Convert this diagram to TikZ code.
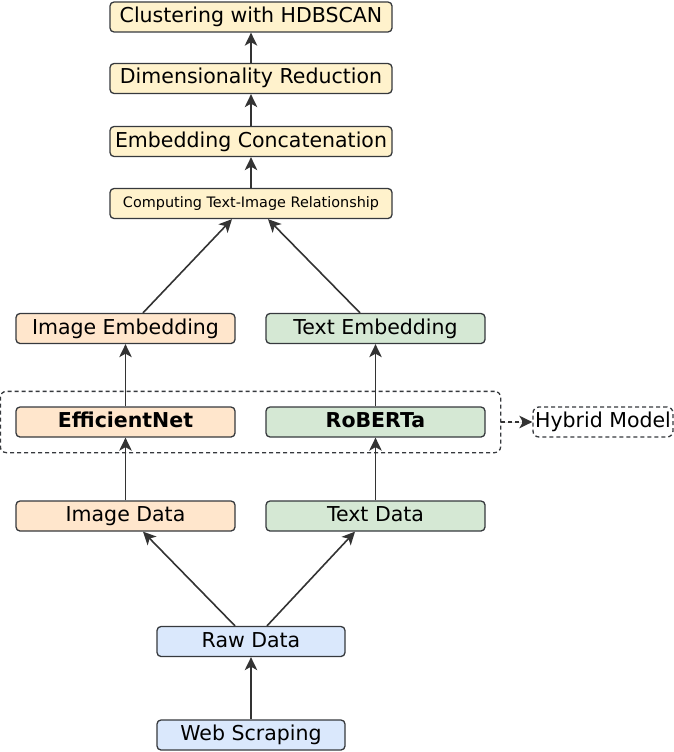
\documentclass[tikz,border=0pt]{standalone}
\usepackage{fontspec}
\setmainfont{DejaVu Sans}
\usetikzlibrary{arrows.meta,fit}
\definecolor{edgegray}{HTML}{36393D}
\definecolor{arrowgray}{HTML}{333333}
\definecolor{yellowfill}{HTML}{FFF2CC}
\definecolor{orangefill}{HTML}{FFE6CC}
\definecolor{greenfill}{HTML}{D5E8D4}
\definecolor{bluefill}{HTML}{DAE8FC}
\tikzset{
  box/.style={draw=edgegray, line width=1.3pt, rounded corners=4pt, inner sep=0pt,
    minimum height=30pt, text height=15pt, text depth=4pt, font=\fontsize{20.5}{24}\selectfont},
  stagebox/.style={box, fill=yellowfill, minimum width=282pt},
  imagebox/.style={box, fill=orangefill, minimum width=219pt},
  textbox/.style={box, fill=greenfill, minimum width=219pt},
  sourcebox/.style={box, fill=bluefill, minimum width=188pt},
  dashbox/.style={draw=edgegray, line width=1.3pt, rounded corners=6pt, dash pattern=on 4pt off 3pt},
  flow/.style={->, draw=arrowgray, fill=arrowgray, line width=1.6pt}
}
\begin{document}
\begin{tikzpicture}[x=1pt, y=-1pt, line join=round, >={Stealth[length=13pt,width=12.5pt,inset=3.5pt]}]
\useasboundingbox (0,0) rectangle (674,752);
% pipeline stages
\node[stagebox] (clus) at (251,17) {Clustering with HDBSCAN};
\node[stagebox] (dimred) at (251,78.5) {Dimensionality Reduction};
\node[stagebox] (concat) at (251,141.5) {Embedding Concatenation};
\node[stagebox, font=\fontsize{14.4}{17}\selectfont, text height=11pt, text depth=3pt] (relat) at (251,203.5) {Computing Text-Image Relationship};
% embeddings and models
\node[imagebox] (imgemb) at (125.5,328.5) {Image Embedding};
\node[textbox] (txtemb) at (375.5,328.5) {Text Embedding};
\node[imagebox, font=\fontsize{20.5}{24}\selectfont\bfseries] (effnet) at (125.5,422) {EfficientNet};
\node[textbox, font=\fontsize{20.5}{24}\selectfont\bfseries] (roberta) at (375.5,422) {RoBERTa};
\node[dashbox, inner sep=15pt, fit=(effnet)(roberta)] (hybrid) {};
\node[dashbox, inner sep=0pt, minimum width=140pt, minimum height=30pt, font=\fontsize{20.5}{24}\selectfont] (hymodel) at (603,422) {Hybrid Model};
% data
\node[imagebox] (imgdata) at (125.5,516) {Image Data};
\node[textbox] (txtdata) at (375.5,516) {Text Data};
\node[sourcebox] (raw) at (251,641.5) {Raw Data};
\node[sourcebox] (web) at (251,735) {Web Scraping};
% connectors
\draw[flow] (web) -- (raw);
\draw[flow] ([xshift=-16pt]raw.north) -- ([xshift=17.5pt]imgdata.south);
\draw[flow] ([xshift=16pt]raw.north) -- ([xshift=-20.5pt]txtdata.south);
\draw[flow] (imgdata) -- (effnet);
\draw[flow] (txtdata) -- (roberta);
\draw[flow] (effnet) -- (imgemb);
\draw[flow] (roberta) -- (txtemb);
\draw[flow, dash pattern=on 4pt off 3pt] (hybrid.east) -- (hymodel.west);
\draw[flow] ([xshift=17.5pt]imgemb.north) -- ([xshift=-19pt]relat.south);
\draw[flow] ([xshift=-15.5pt]txtemb.north) -- ([xshift=17pt]relat.south);
\draw[flow] (relat) -- (concat);
\draw[flow] (concat) -- (dimred);
\draw[flow] (dimred) -- (clus);
\end{tikzpicture}
\end{document}
